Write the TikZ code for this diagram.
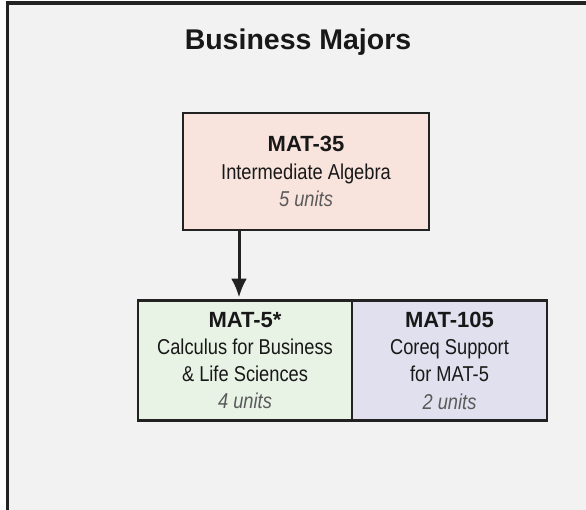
\documentclass[tikz,border=0pt]{standalone}
\usepackage{fontspec}
\setmainfont{Liberation Sans}
\newfontfamily\narrowfont{Liberation Sans}[FakeStretch=0.85]
\usetikzlibrary{arrows.meta, positioning}

\newcommand{\coursecode}[1]{{\rmfamily\fontsize{22}{27.3}\selectfont\bfseries #1}}
\newcommand{\units}[1]{{\itshape\color{unitgray}#1}}

\begin{document}
\begin{tikzpicture}[
    x=1pt, y=-1pt,
    course/.style={rectangle, draw=boxline, line width=2.5pt, outer sep=0pt, align=center,
        text=textdark, font=\narrowfont\fontsize{21.5}{27.3}\selectfont},
    prereq/.style={-{Latex[length=19pt,width=16pt]}, line width=3pt, draw=boxline, fill=boxline, shorten >=3pt},
    heading/.style={anchor=base, text=textdark, font=\fontsize{28.5}{32}\selectfont\bfseries}
]

% Define colors of the chart
\definecolor{panelgray}{RGB}{242, 242, 242}
\definecolor{boxline}{RGB}{34, 34, 34}
\definecolor{textdark}{RGB}{24, 24, 24}
\definecolor{unitgray}{RGB}{90, 90, 90}
\definecolor{algcolor}{RGB}{249, 228, 221}
\definecolor{calccolor}{RGB}{232, 243, 230}
\definecolor{supcolor}{RGB}{224, 224, 238}

\useasboundingbox (0,0) rectangle (586,509);
\clip (0,0) rectangle (586,509);

% Panel
\fill[white] (0,0) rectangle (586,509);
\draw[draw=boxline, fill=panelgray, line width=3.5pt] (7.5,3) rectangle (620,540);

% Title
\node[heading] (title) at (298,49) {Business Majors};

% MAT-35
\node[course, fill=algcolor, minimum width=246pt, minimum height=117pt] (mat35) at (306,171.5) {
    \coursecode{MAT-35}\\
    Intermediate Algebra\\
    \units{5 units}
};

% MAT-5 and its corequisite
\node[course, fill=calccolor, minimum width=214pt, minimum height=120pt] (mat5) at (245,360.5) {
    \coursecode{MAT-5*}\\
    Calculus for Business\\
    \& Life Sciences\\
    \units{4 units}
};
\node[course, fill=supcolor, minimum width=195pt, minimum height=120pt, right=0pt of mat5] (mat105) {
    \coursecode{MAT-105}\\
    Coreq Support\\
    for MAT-5\\
    \units{2 units}
};

% Prerequisite arrow
\draw[prereq] ([xshift=56pt]mat35.south west) -- ([xshift=101pt]mat5.north west);

\end{tikzpicture}
\end{document}
